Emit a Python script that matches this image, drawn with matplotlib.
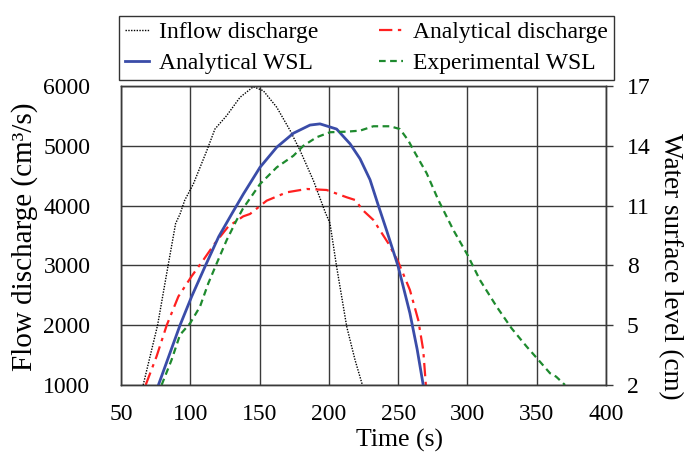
import matplotlib
matplotlib.use("Agg")
import matplotlib.pyplot as plt

plt.rcParams['font.family'] = ['Liberation Serif', 'DejaVu Serif']

# Inflow discharge (cm3/s)
inflow_t = [66, 76.4, 84, 89.4, 92.6, 96, 102.2, 111.9, 117.8, 126.2, 135.9, 145.5,
            152.7, 162.4, 172.1, 179.3, 188.9, 197.4, 200.8, 205.6, 212.9, 218.9, 224.2]
inflow_q = [1000, 2000, 3000, 3700, 3860, 4090, 4361, 4918, 5281, 5503, 5811, 5988,
            5921, 5644, 5253, 4918, 4416, 3888, 3704, 2978, 1975, 1418, 1000]

# Analytical discharge (cm3/s)
adis_t = [67.8, 75.7, 83, 91.4, 101, 109.4, 117.8, 127.4, 138.2, 143.1, 155.1, 169.6,
          184, 198.4, 212.9, 218.9, 224.9, 232.1, 242.9, 250, 258.5, 264.5, 268.1, 270]
adis_q = [1000, 1480, 2000, 2480, 2820, 3090, 3370, 3650, 3820, 3860, 4082, 4222,
          4278, 4261, 4139, 4094, 3915, 3760, 3370, 3062, 2589, 2087, 1585, 1000]

# Analytical WSL (cm)
awsl_t = [77, 92.6, 101, 111, 120.5, 129.9, 138.3, 150.3, 162.4, 174.4, 186.4, 193.6,
          205.6, 215.3, 222.5, 229.7, 235.5, 241.7, 250, 258.5, 263.7, 268.1]
awsl_h = [2.0, 5.0, 6.44, 8.0, 9.44, 10.58, 11.58, 12.92, 13.93, 14.63, 15.04, 15.10,
          14.84, 14.1, 13.35, 12.3, 11.05, 9.75, 7.95, 5.6, 3.8, 2.0]

# Experimental WSL (cm)
ewsl_t = [79.3, 86.5, 92.6, 99.8, 107, 113, 119, 126.2, 133.5, 138, 150.3, 162.4,
          174.4, 181.6, 191.2, 200.8, 212.9, 222.5, 232.1, 244.2, 251.3, 257.4, 261,
          270.6, 279, 289.8, 300.1, 309, 321.1, 331.9, 342.7, 350.2, 359.6, 364, 370.4]
ewsl_h = [2.0, 3.26, 4.52, 5.09, 5.93, 7.1, 8.09, 9.26, 10.28, 10.85, 12.08, 12.92,
          13.50, 14.0, 14.43, 14.68, 14.71, 14.76, 14.98, 14.98, 14.84, 14.26, 13.79,
          12.62, 11.28, 9.78, 8.52, 7.27, 5.93, 4.84, 3.93, 3.34, 2.59, 2.42, 2.0]

x_ticks = [50, 100, 150, 200, 250, 300, 350, 400]
q_ticks = [1000, 2000, 3000, 4000, 5000, 6000]
h_ticks = [2, 5, 8, 11, 14, 17]

fs = 17
grid_c = '#3a3a3a'

fig = plt.figure(figsize=(6.84, 4.57), dpi=100)
ax = fig.add_axes([121/684, 1-385/457, 485/684, 299/457])
ax2 = ax.twinx()

l1, = ax.plot(inflow_t, inflow_q, color='black', linestyle=(0, (1, 1)), lw=1.0,
              label='Inflow discharge')
l2, = ax.plot(adis_t, adis_q, color='#ff2020', linestyle=(0, (6, 2.5, 1.5, 2.5)),
              lw=1.6, label='Analytical discharge')
l3, = ax2.plot(awsl_t, awsl_h, color='#3a4ca8', lw=2.0, label='Analytical WSL')
l4, = ax2.plot(ewsl_t, ewsl_h, color='#1e8a2e', linestyle=(0, (3, 2)), lw=1.6,
               label='Experimental WSL')

ax.set_xlim(50, 400)
ax.set_ylim(1000, 6000)
ax2.set_ylim(2, 17)
ax.set_xticks(x_ticks)
ax.set_yticks(q_ticks)
ax2.set_yticks(h_ticks)

ax.grid(True, color=grid_c, lw=1.0)
ax.set_axisbelow(True)
for a in (ax, ax2):
    for s in a.spines.values():
        s.set_color(grid_c)
        s.set_linewidth(1.0)

ax.tick_params(axis='x', length=0, pad=14, labelsize=fs)
ax.tick_params(axis='y', length=0, pad=22, labelsize=fs)
ax2.tick_params(axis='y', direction='out', length=5, width=1.0, color=grid_c,
                pad=10, labelsize=fs)

ax.set_xlabel('Time (s)', fontsize=18.5, va='center')
ax.xaxis.set_label_coords((400-121)/485, -(440-385)/299)
ax.set_ylabel('Flow discharge (cm³/s)', fontsize=21, va='center')
ax.yaxis.set_label_coords(-(121-25)/485, 0.497)
ax2.set_ylabel('Water surface level (cm)', fontsize=19.5, rotation=270, va='center')
ax2.yaxis.set_label_coords((670-121)/485, (385-266)/299)

leg = fig.legend(handles=[l1, l3, l2, l4], ncol=2, loc='center',
                 bbox_to_anchor=(366.5/684, 1-48/457), fontsize=fs,
                 frameon=True, fancybox=False, edgecolor='black',
                 handlelength=1.0, handletextpad=0.42, columnspacing=2.6,
                 labelspacing=0.42, borderpad=0.25)
leg.get_frame().set_linewidth(1.0)

fig.savefig('out.png', dpi=100, facecolor='white')
